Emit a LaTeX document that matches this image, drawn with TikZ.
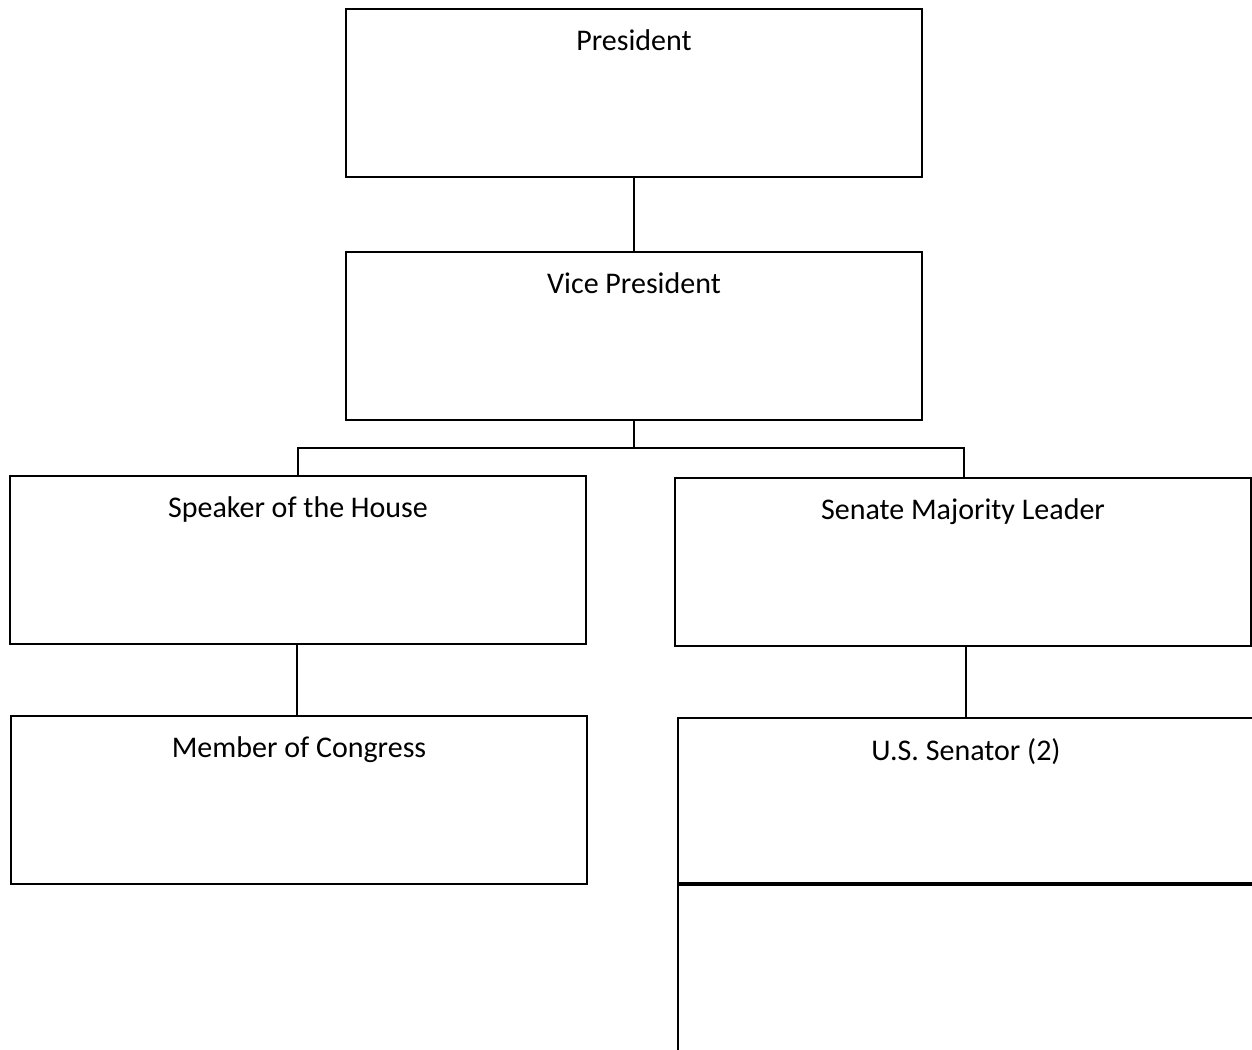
\documentclass[tikz,border=0pt]{standalone}
\usepackage{fontspec}
\setmainfont{Carlito}
\begin{document}
\begin{tikzpicture}[x=1pt,y=-1pt,
  box/.style={draw,line width=2.2pt,rectangle,anchor=north west,outer sep=0pt,minimum width=576pt,minimum height=168pt,inner sep=0pt},
  boxtitle/.style={font=\fontsize{30}{34}\selectfont,inner sep=0pt,anchor=north,yshift=-20.5pt},
  conn/.style={line width=2pt}]
\useasboundingbox (0,0) rectangle (1252,1049);
\clip (0,0) rectangle (1252,1049);
\fill[white] (0,0) rectangle (1252,1049);
\node[box,label={[boxtitle]north:President}] (pres) at (346,9) {};
\node[box,label={[boxtitle]north:Vice President}] (vp) at (346,252) {};
\node[box,label={[boxtitle]north:Speaker of the House}] (spk) at (10,476) {};
\node[box,label={[boxtitle]north:Senate Majority Leader}] (sml) at (675,478) {};
\node[box,label={[boxtitle]north:Member of Congress}] (moc) at (11,716) {};
\node[box,minimum height=166pt,label={[boxtitle]north:U.S. Senator (2)}] (sen) at (678,718) {};
\node[box,minimum height=170pt] (low) at (678,884) {};
\draw[line width=4.5pt] (low.north west) -- (low.north east);
\coordinate (bus) at (634,448);
\draw[conn] (pres.south) -- (vp.north);
\draw[conn] (vp.south) -- (vp.south |- bus);
\draw[conn] (spk.north -| 298,0) -- (298,448) -- (964,448) -- (sml.north -| 964,0);
\draw[conn] (spk.south -| 297,0) -- (moc.north -| 297,0);
\draw[conn] (sml.south -| 966,0) -- (sen.north -| 966,0);
\end{tikzpicture}
\end{document}
